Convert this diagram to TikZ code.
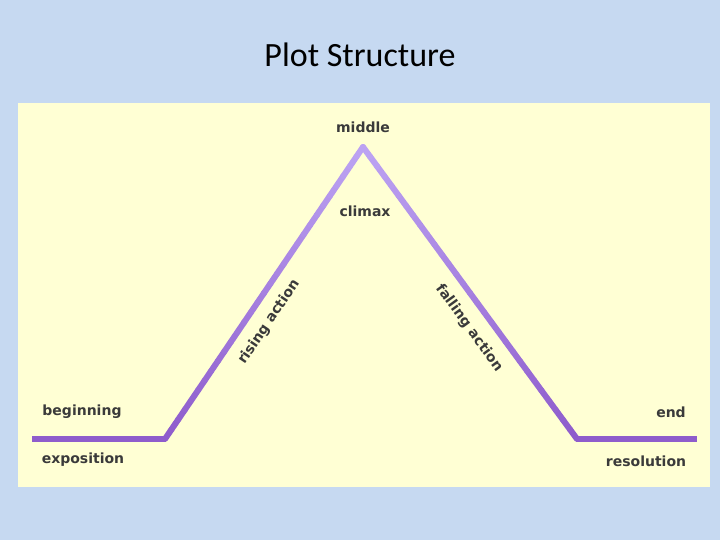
\documentclass[tikz,border=0pt]{standalone}
\usepackage{fontspec}
\usetikzlibrary{calc}
\setmainfont{Carlito}
\newfontfamily\lblfont{DejaVu Sans}
\definecolor{bgblue}{HTML}{C6D9F1}
\definecolor{paper}{HTML}{FFFFD4}
\definecolor{lowpurple}{HTML}{8E5CCC}
\definecolor{highpurple}{HTML}{BCA2F2}
\definecolor{txt}{HTML}{3A3A3A}
\begin{document}
\begin{tikzpicture}[x=1pt,y=-1pt,
  lbl/.style={font=\lblfont\bfseries\fontsize{14}{16}\selectfont, text=txt, inner sep=0pt},
  seg/.style={line width=6pt, line cap=round}]
\fill[bgblue] (0,0) rectangle (720,540);
\node[font=\fontsize{34}{38}\selectfont] (title) at (360,55) {Plot Structure};
\fill[paper] (18,103) rectangle (710,487);
\coordinate (a) at (32,439);
\coordinate (b) at (165,439);
\coordinate (c) at (363,147);
\coordinate (d) at (577,439);
\coordinate (e) at (697,439);
\draw[seg, line cap=butt, lowpurple] (a) -- (b);
\draw[seg, line cap=butt, lowpurple] (d) -- (e);
\foreach \i in {0,...,29}{
  \pgfmathsetmacro{\p}{100*\i/29}
  \draw[seg, color=highpurple!\p!lowpurple] ($(b)!{\i/30}!(c)$) -- ($(b)!{(\i+1)/30}!(c)$);
  \draw[seg, color=highpurple!\p!lowpurple] ($(d)!{\i/30}!(c)$) -- ($(d)!{(\i+1)/30}!(c)$);
}
\node[lbl] (middle) at (363,127) {middle};
\node[lbl] (climax) at (365,211) {climax};
\node[lbl, rotate=56] (rising) at (269,322) {rising action};
\node[lbl, rotate=-54] (falling) at (469,328) {falling action};
\node[lbl] (beginning) at (82,412) {beginning};
\node[lbl] (exposition) at (83,460) {exposition};
\node[lbl] (end) at (671,412) {end};
\node[lbl] (resolution) at (646,461) {resolution};
\end{tikzpicture}
\end{document}
